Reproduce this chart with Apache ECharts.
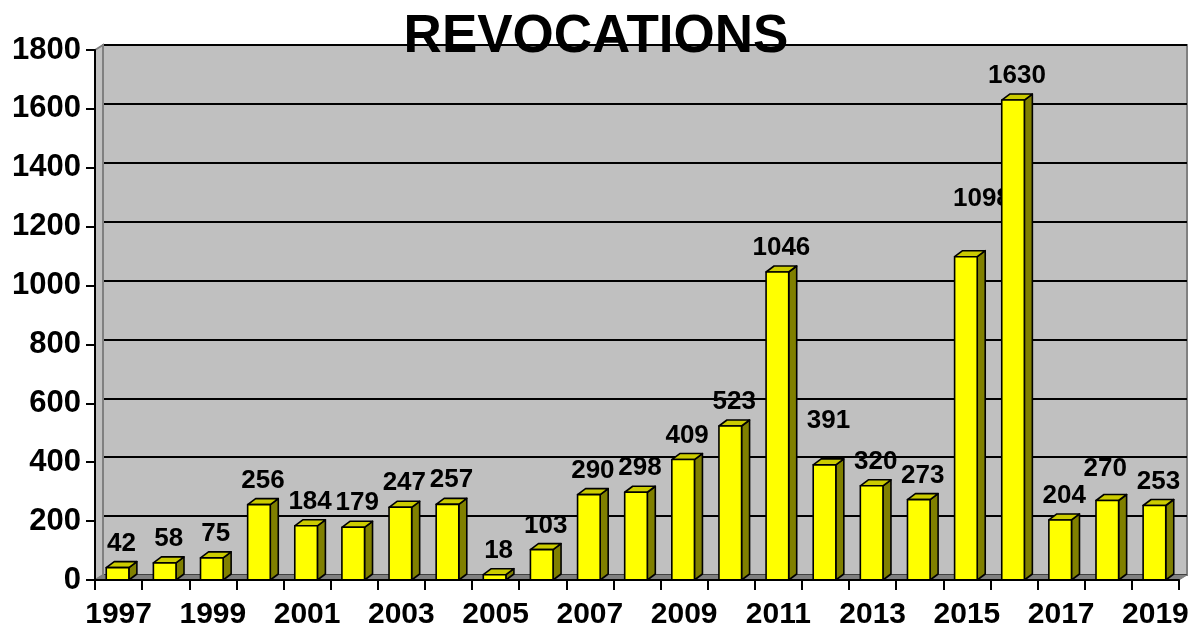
<!DOCTYPE html>
<html>
<head>
<meta charset="utf-8">
<script src="https://cdn.jsdelivr.net/npm/echarts@6/dist/echarts.min.js"></script>
<style>html,body{margin:0;padding:0;background:#fff;}#chart{width:1192px;height:630px;}</style>
</head>
<body>
<div id="chart"></div>
<script>
const titleText = 'REVOCATIONS';
const years = ['1997','1998','1999','2000','2001','2002','2003','2004','2005','2006','2007','2008','2009','2010','2011','2012','2013','2014','2015','2016','2017','2018','2019'];
const revocations = [42,58,75,256,184,179,247,257,18,103,290,298,409,523,1046,391,320,273,1098,1630,204,270,253];
const yMin = 0, yMax = 1800, yStep = 200;

const FONT = '"Liberation Sans", Arial, sans-serif';
const G = {left: 95, top: 50, right: 1179, bottom: 580};
const D = {dx: 8, dy: -5};
// label nudges (x, extra height) mimicking the original's label placement
const nudge = {'2012': [0, 20], '2015': [12, 34], '2018': [-6, 8]};

const chart = echarts.init(document.getElementById('chart'), null, {renderer: 'canvas'});

const option = {
  backgroundColor: '#fff',
  animation: false,
  title: {
    text: titleText, left: 'center', top: 6,
    textStyle: {fontFamily: FONT, fontWeight: 'bold', fontSize: 53, color: '#000'}
  },
  grid: [
    {left: G.left, top: G.top, width: G.right - G.left, height: G.bottom - G.top, show: false},
    {left: G.left + D.dx, top: G.top + D.dy, width: G.right - G.left, height: G.bottom - G.top,
     show: true, backgroundColor: '#C0C0C0', borderColor: '#808080', borderWidth: 2}
  ],
  xAxis: [
    {type: 'category', gridIndex: 0, data: years, boundaryGap: true, z: 5,
     axisLine: {lineStyle: {color: '#000', width: 2}},
     axisTick: {show: true, interval: 0, length: 10, lineStyle: {color: '#000', width: 2}},
     axisLabel: {interval: 1, margin: 20, color: '#000', fontFamily: FONT, fontWeight: 'bold', fontSize: 30}},
    {type: 'value', gridIndex: 1, show: false}
  ],
  yAxis: [
    {type: 'value', gridIndex: 0, min: yMin, max: yMax, interval: yStep, z: 5,
     axisLine: {show: true, lineStyle: {color: '#000', width: 2}},
     axisTick: {show: true, length: 9, lineStyle: {color: '#000', width: 2}},
     splitLine: {show: false},
     axisLabel: {margin: 14, color: '#000', fontFamily: FONT, fontWeight: 'bold', fontSize: 31,
                 formatter: v => String(v)}},
    {type: 'value', gridIndex: 1, min: yMin, max: yMax, interval: yStep,
     axisLine: {show: false}, axisTick: {show: false}, axisLabel: {show: false},
     splitLine: {show: true, lineStyle: {color: '#000', width: 2}}}
  ],
  graphic: [
    {type: 'polygon', z: 1, shape: {points: [[G.left, G.top], [G.left + D.dx, G.top + D.dy], [G.left + D.dx, G.bottom + D.dy], [G.left, G.bottom]]},
     style: {fill: '#C0C0C0', stroke: '#808080', lineWidth: 2}},
    {type: 'polygon', z: 1, shape: {points: [[G.left, G.bottom], [G.left + D.dx, G.bottom + D.dy], [G.right + D.dx, G.bottom + D.dy], [G.right, G.bottom]]},
     style: {fill: '#808080', stroke: '#808080', lineWidth: 1}}
  ],
  series: [{
    type: 'custom', xAxisIndex: 0, yAxisIndex: 0, z: 3,
    data: revocations.map((v, i) => [i, v]),
    encode: {x: 0, y: 1},
    renderItem: function (params, api) {
      const i = api.value(0), v = api.value(1);
      const top = api.coord([i, v]);
      const base = api.coord([i, 0]);
      const band = api.size([1, 0])[0];
      const w = band * 0.48;
      const l = top[0] - w / 2 - 1, r = l + w;
      const t = top[1], b = base[1];
      const dx = D.dx, dy = D.dy - 1;
      const n = nudge[years[i]] || [0, 0];
      const stroke = {stroke: '#000', lineWidth: 1.6, lineJoin: 'round'};
      return {
        type: 'group',
        children: [
          {type: 'polygon', shape: {points: [[r, t], [r + dx, t + dy], [r + dx, b + dy], [r, b]]},
           style: Object.assign({fill: '#808000'}, stroke)},
          {type: 'polygon', shape: {points: [[l, t], [l + dx, t + dy], [r + dx, t + dy], [r, t]]},
           style: Object.assign({fill: '#CCCC00'}, stroke)},
          {type: 'rect', shape: {x: l, y: t, width: w, height: b - t},
           style: Object.assign({fill: '#FFFF00'}, stroke)},
          {type: 'text', style: {text: String(v), x: (l + r) / 2 + 4 + n[0], y: t + dy - 5 - n[1],
            textAlign: 'center', textVerticalAlign: 'bottom',
            font: 'bold 26px ' + FONT, fill: '#000'}}
        ]
      };
    }
  }]
};
chart.setOption(option);
</script>
</body>
</html>
